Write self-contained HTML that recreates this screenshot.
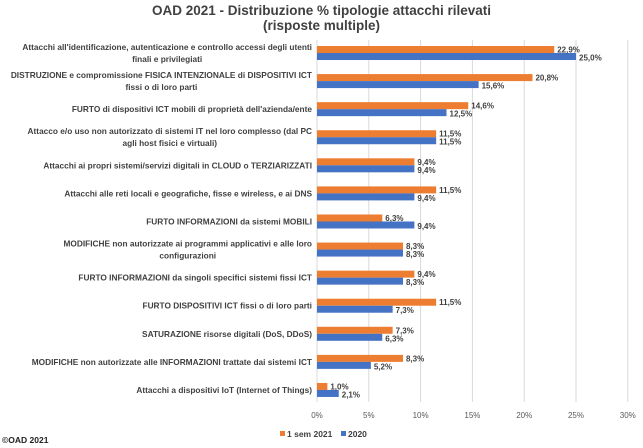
<!DOCTYPE html>
<html><head><meta charset="utf-8"><style>
body{margin:0;background:#fff;font-family:"Liberation Sans",sans-serif;}
#wrap{position:relative;width:643px;height:448px;overflow:hidden;}
.t{position:absolute;left:0;width:643px;text-align:center;font-weight:bold;font-size:13.5px;color:#404040;line-height:15px;}
</style></head><body>
<div id="wrap">
<div class="t" style="top:3px">OAD 2021 - Distribuzione % tipologie attacchi rilevati<br>(risposte multiple)</div>
<svg id="svg" width="643" height="448" style="position:absolute;left:0;top:0"></svg>
</div>
<script>
const categories=["Attacchi all'identificazione, autenticazione e controllo accessi degli utenti|finali e privilegiati","DISTRUZIONE e compromissione FISICA INTENZIONALE  di DISPOSITIVI ICT|fissi  o di loro parti","FURTO di dispositivi ICT mobili di proprietà dell'azienda/ente","Attacco e/o uso non autorizzato di  sistemi IT  nel loro complesso (dal PC|agli host fisici e virtuali)","Attacchi ai propri sistemi/servizi digitali in CLOUD o TERZIARIZZATI","Attacchi alle reti locali e geografiche, fisse e wireless, e ai DNS","FURTO INFORMAZIONI  da sistemi MOBILI","MODIFICHE  non autorizzate ai programmi applicativi e alle loro|configurazioni","FURTO INFORMAZIONI da singoli specifici sistemi fissi ICT","FURTO DISPOSITIVI ICT fissi o di loro parti","SATURAZIONE risorse digitali (DoS, DDoS)","MODIFICHE non autorizzate alle INFORMAZIONI trattate dai sistemi ICT","Attacchi a dispositivi  IoT (Internet of Things)"];
const series2021=[22.9,20.8,14.6,11.5,9.4,11.5,6.3,8.3,9.4,11.5,7.3,8.3,1.0];
const series2020=[25.0,15.6,12.5,11.5,9.4,9.4,9.4,8.3,8.3,7.3,6.3,5.2,2.1];
const ticks=[0,5,10,15,20,25,30];
const NS="http://www.w3.org/2000/svg",svg=document.getElementById('svg');
const x=v=>317+v*10.36, yc=i=>53+i*28.08;
function el(t,a,txt){const e=document.createElementNS(NS,t);for(const k in a)e.setAttribute(k,a[k]);if(txt!=null)e.textContent=txt;svg.appendChild(e);return e;}
ticks.forEach(t=>{
 const g=el('line',{x1:x(t),x2:x(t),y1:40,y2:402,stroke:'#d9d9d9','stroke-width':1});
 
 
 const l=el('text',{x:x(t),y:418,'text-anchor':'middle','font-size':8,fill:'#595959'},t+'%');
 
 
});
const fmt=v=>v.toFixed(1).replace('.',',')+'%';
categories.forEach((c,i)=>{
 const lines=c.split('|'),y=yc(i);
 const els=lines.map((s,j)=>{
  const t=el('text',{x:312,y:y+3+(j-(lines.length-1)/2)*12,'text-anchor':'end','font-size':8.3,'font-weight':'bold',fill:'#404040'},s);
  
  
  return t;
 });
 if(els.length>1){
  const w=Math.max(...els.map(e=>e.getComputedTextLength()));
  els.forEach(e=>{e.setAttribute('text-anchor','middle');e.setAttribute('x',312-w/2);});
 }
 const b1=el('rect',{x:x(0),y:y-7,width:x(series2021[i])-x(0),height:7,fill:'#ed7d31'});
 
 
 const b2=el('rect',{x:x(0),y:y,width:x(series2020[i])-x(0),height:7,fill:'#4472c4'});
 
 
 const v1=el('text',{x:x(series2021[i])+3,y:y-0.5,'font-size':8,'font-weight':'bold',fill:'#404040'},fmt(series2021[i]));
 
 
 const v2=el('text',{x:x(series2020[i])+3,y:y+7.5,'font-size':8,'font-weight':'bold',fill:'#404040'},fmt(series2020[i]));
 
 
});
const lg=[[280,'#ed7d31','1 sem 2021'],[341,'#4472c4','2020']];
lg.forEach(([lx,c,s])=>{
 const r=el('rect',{x:lx,y:431,width:5,height:5,fill:c});
 
 
 const t=el('text',{x:lx+7,y:437,'font-size':8.5,'font-weight':'bold',fill:'#404040'},s);
 
 
});
const cp=el('text',{x:2,y:443,'font-size':8.5,'font-weight':'bold',fill:'#202020'},'©OAD 2021');


</script>
</body></html>
